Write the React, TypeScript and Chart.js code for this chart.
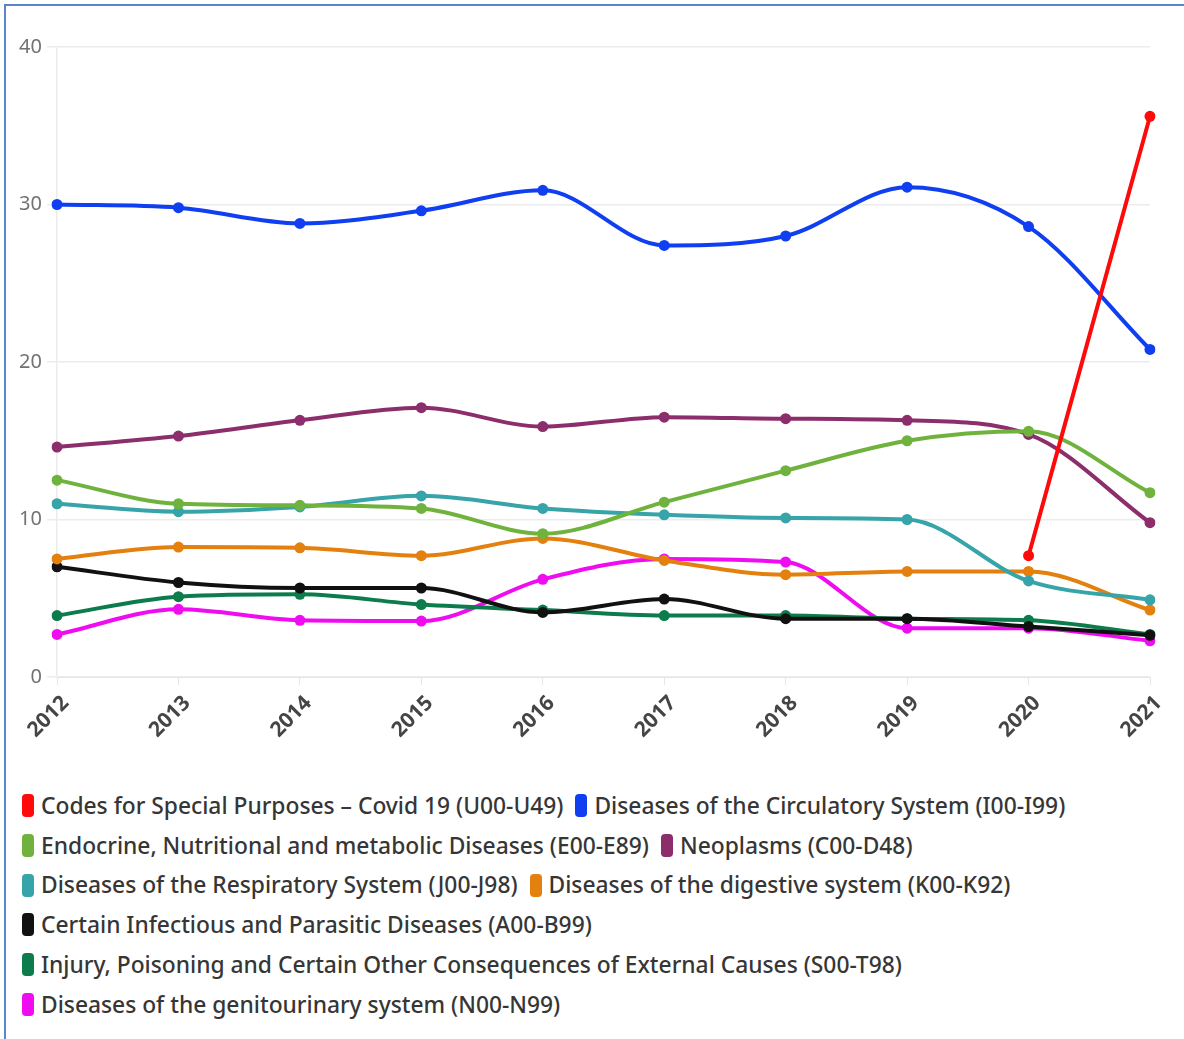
import React, { useEffect, useRef } from "react";
import { Chart, registerables } from "chart.js";

Chart.register(...registerables);

const years = ["2012", "2013", "2014", "2015", "2016", "2017", "2018", "2019", "2020", "2021"];

const covid = [null, null, null, null, null, null, null, null, 7.7, 35.6];
const circulatory = [30.0, 29.8, 28.8, 29.6, 30.9, 27.4, 28.0, 31.1, 28.6, 20.8];
const endocrine = [12.5, 11.0, 10.9, 10.7, 9.1, 11.1, 13.1, 15.0, 15.6, 11.7];
const neoplasms = [14.6, 15.3, 16.3, 17.1, 15.9, 16.5, 16.4, 16.3, 15.4, 9.8];
const respiratory = [11.0, 10.5, 10.8, 11.5, 10.7, 10.3, 10.1, 10.0, 6.1, 4.9];
const digestive = [7.5, 8.25, 8.2, 7.7, 8.8, 7.4, 6.5, 6.7, 6.7, 4.25];
const infectious = [7.0, 6.0, 5.65, 5.65, 4.1, 4.95, 3.7, 3.7, 3.2, 2.65];
const injury = [3.9, 5.1, 5.25, 4.6, 4.25, 3.9, 3.9, 3.7, 3.6, 2.7];
const genitourinary = [2.7, 4.3, 3.6, 3.55, 6.2, 7.5, 7.3, 3.1, 3.1, 2.3];

const yTicks = [0, 10, 20, 30, 40];

const seriesNames = [
  "Codes for Special Purposes – Covid 19 (U00-U49)",
  "Diseases of the Circulatory System (I00-I99)",
  "Endocrine, Nutritional and metabolic Diseases (E00-E89)",
  "Neoplasms (C00-D48)",
  "Diseases of the Respiratory System (J00-J98)",
  "Diseases of the digestive system (K00-K92)",
  "Certain Infectious and Parasitic Diseases (A00-B99)",
  "Injury, Poisoning and Certain Other Consequences of External Causes (S00-T98)",
  "Diseases of the genitourinary system (N00-N99)",
];
const seriesValues = [covid, circulatory, endocrine, neoplasms, respiratory, digestive, infectious, injury, genitourinary];
const seriesColors = ["#ff0a0a", "#0f3ff0", "#6fb23e", "#8c2d6c", "#36a4a8", "#e3800e", "#111111", "#0c7c4c", "#f00cf0"];

const CANVAS_W = 1184;
const CANVAS_H = 770;

export default function App() {
  const ref = useRef<HTMLCanvasElement | null>(null);

  useEffect(() => {
    document.body.style.margin = "0";
    const ctx = ref.current!;
    const chart = new Chart(ctx, {
      type: "line",
      data: {
        labels: years,
        datasets: seriesNames.map((name, i) => ({
          label: name,
          data: seriesValues[i] as any,
          borderColor: seriesColors[i],
          backgroundColor: seriesColors[i],
          pointBackgroundColor: seriesColors[i],
          pointBorderColor: seriesColors[i],
          pointRadius: 5.5,
          pointBorderWidth: 0,
          borderWidth: 4,
          cubicInterpolationMode: "monotone",
          fill: false,
        })),
      },
      options: {
        animation: false,
        responsive: false,
        maintainAspectRatio: false,
        layout: { padding: { top: 47, right: 34, left: 0, bottom: 0 } },
        plugins: {
          legend: { display: false },
          tooltip: { enabled: false },
        },
        scales: {
          x: {
            grid: {
              drawOnChartArea: false,
              drawTicks: true,
              tickLength: 8,
              color: "#e6e6e6",
            },
            border: { display: true, color: "#e6e6e6" },
            ticks: {
              minRotation: 45,
              maxRotation: 45,
              autoSkip: false,
              color: "#454545",
              padding: 2,
              font: { family: "'Noto Sans', sans-serif", size: 21, weight: "bold", lineHeight: "12px" },
              callback: function (this: any, v: any) {
                return ["", this.getLabelForValue(v)];
              },
            },
            afterFit: (s: any) => {
              s.height = CANVAS_H - 677;
            },
          },
          y: {
            min: 0,
            max: 40,
            afterBuildTicks: (s: any) => {
              s.ticks = yTicks.map((v) => ({ value: v }));
            },
            grid: { color: "#ececec", tickLength: 10, lineWidth: 1.5 },
            border: { display: true, color: "#ececec", width: 1.5 },
            ticks: {
              color: "#727272",
              padding: 5,
              font: { family: "'Noto Sans', sans-serif", size: 20 },
            },
            afterFit: (s: any) => {
              s.width = 57;
            },
          },
        },
      },
    });
    return () => chart.destroy();
  }, []);

  return (
    <div style={{ position: "relative", width: 1184, height: 1039, overflow: "hidden", background: "#fff" }}>
      <div
        style={{
          position: "absolute",
          left: 4,
          top: 4,
          width: 1300,
          height: 1200,
          borderLeft: "2px solid #5b87c9",
          borderTop: "2px solid #5b87c9",
        }}
      />
      <canvas ref={ref} width={CANVAS_W} height={CANVAS_H} style={{ position: "absolute", left: 0, top: 0 }} />
      <div
        style={{
          position: "absolute",
          left: 22,
          top: 786,
          width: 1120,
          display: "flex",
          flexWrap: "wrap",
          fontFamily: "'Noto Sans', sans-serif",
          fontSize: 22.8,
          fontWeight: 500,
          color: "#363636",
          lineHeight: "39.7px",
        }}
      >
        {seriesNames.map((name, i) => (
          <div key={name} style={{ display: "flex", alignItems: "center", marginRight: 12, whiteSpace: "nowrap" }}>
            <span
              style={{
                display: "inline-block",
                width: 12,
                height: 23,
                borderRadius: 4,
                background: seriesColors[i],
                marginRight: 7,
              }}
            />
            <span>{name}</span>
          </div>
        ))}
      </div>
    </div>
  );
}
